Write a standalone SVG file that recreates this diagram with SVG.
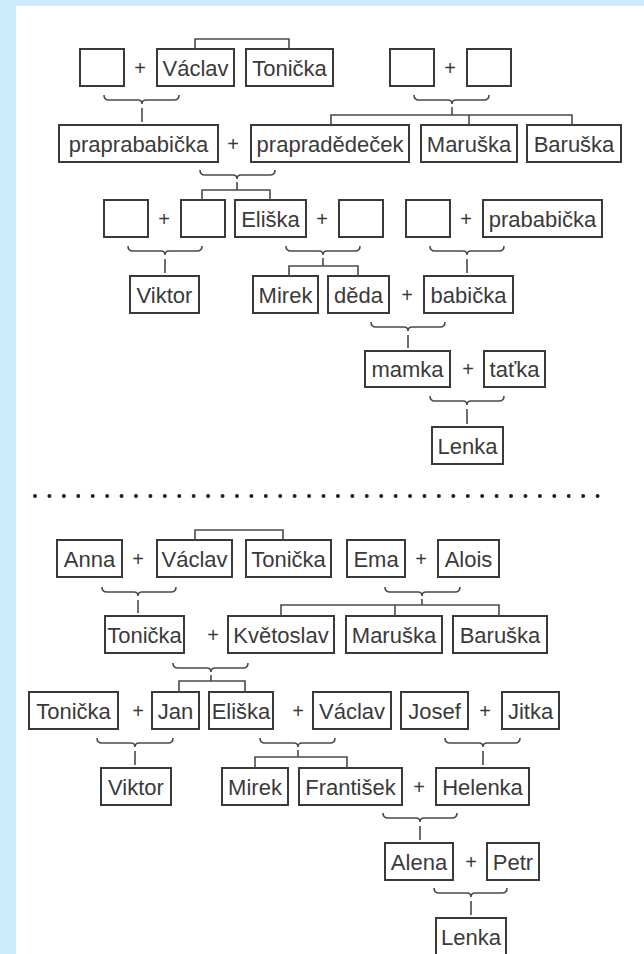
<svg xmlns="http://www.w3.org/2000/svg" width="644" height="954" viewBox="0 0 644 954">
<style>
.bg{fill:#cdeafd}
.node rect{fill:#fff;stroke:#3a3a3a;stroke-width:2}
.node text{font-family:"Liberation Sans",Arial,sans-serif;font-size:22px;fill:#3a3a3a;text-anchor:middle}
.plus{font-family:"Liberation Sans",Arial,sans-serif;font-size:20px;fill:#3a3a3a;text-anchor:middle}
.conn path{fill:none;stroke:#4a4a4a;stroke-width:1.6}
.dots{fill:none;stroke:#222;stroke-width:4;stroke-linecap:round;stroke-dasharray:0 14.425}
</style>
<rect class="bg" x="0" y="0" width="644" height="954"/>
<rect x="16" y="6" width="628" height="948" fill="#fff"/>

<!-- ===== TOP SECTION ===== -->
<g id="t_e1" class="node"><rect x="80" y="49" width="44" height="37"/></g>
<g id="t_vaclav" class="node"><rect x="157" y="49" width="77" height="37"/><text x="195.5" y="75.5">Václav</text></g>
<g id="t_tonicka" class="node"><rect x="246" y="49" width="87" height="37"/><text x="289.5" y="75.5">Tonička</text></g>
<g id="t_e2" class="node"><rect x="390" y="49" width="44" height="37"/></g>
<g id="t_e3" class="node"><rect x="467" y="49" width="44" height="37"/></g>

<g id="t_praprababicka" class="node"><rect x="59" y="125" width="159" height="37"/><text x="138.5" y="151.5">praprababička</text></g>
<g id="t_prapradedecek" class="node"><rect x="251" y="125" width="158" height="37"/><text x="330" y="151.5">prapradědeček</text></g>
<g id="t_maruska" class="node"><rect x="421" y="125" width="96" height="37"/><text x="469" y="151.5">Maruška</text></g>
<g id="t_baruska" class="node"><rect x="527" y="125" width="94" height="37"/><text x="574" y="151.5">Baruška</text></g>

<g id="t_e4" class="node"><rect x="104" y="200" width="44" height="37"/></g>
<g id="t_e5" class="node"><rect x="181" y="200" width="44" height="37"/></g>
<g id="t_eliska" class="node"><rect x="235" y="200" width="71" height="37"/><text x="270.5" y="226.5">Eliška</text></g>
<g id="t_e6" class="node"><rect x="339" y="200" width="44" height="37"/></g>
<g id="t_e7" class="node"><rect x="406" y="200" width="44" height="37"/></g>
<g id="t_prababicka" class="node"><rect x="483" y="200" width="119" height="37"/><text x="542.5" y="226.5">prababička</text></g>

<g id="t_viktor" class="node"><rect x="130" y="276" width="69" height="37"/><text x="164.5" y="302.5">Viktor</text></g>
<g id="t_mirek" class="node"><rect x="253" y="276" width="65" height="37"/><text x="285.5" y="302.5">Mirek</text></g>
<g id="t_deda" class="node"><rect x="328" y="276" width="61" height="37"/><text x="358.5" y="302.5">děda</text></g>
<g id="t_babicka" class="node"><rect x="424" y="276" width="89" height="37"/><text x="468.5" y="302.5">babička</text></g>

<g id="t_mamka" class="node"><rect x="365" y="351" width="85" height="36"/><text x="407.5" y="377">mamka</text></g>
<g id="t_tatka" class="node"><rect x="484" y="351" width="61" height="36"/><text x="514.5" y="377">taťka</text></g>

<g id="t_lenka" class="node"><rect x="432" y="427" width="71" height="37"/><text x="467.5" y="453.5">Lenka</text></g>

<!-- ===== BOTTOM SECTION ===== -->
<g id="b_anna" class="node"><rect x="57" y="540" width="65" height="37"/><text x="89.5" y="566.5">Anna</text></g>
<g id="b_vaclav" class="node"><rect x="157" y="540" width="75" height="37"/><text x="194.5" y="566.5">Václav</text></g>
<g id="b_tonicka" class="node"><rect x="246" y="540" width="85" height="37"/><text x="288.5" y="566.5">Tonička</text></g>
<g id="b_ema" class="node"><rect x="347" y="540" width="58" height="37"/><text x="376" y="566.5">Ema</text></g>
<g id="b_alois" class="node"><rect x="438" y="540" width="61" height="37"/><text x="468.5" y="566.5">Alois</text></g>

<g id="b_tonicka2" class="node"><rect x="105" y="616" width="79" height="37"/><text x="144.5" y="642.5">Tonička</text></g>
<g id="b_kvetoslav" class="node"><rect x="228" y="616" width="106" height="37"/><text x="281" y="642.5">Květoslav</text></g>
<g id="b_maruska" class="node"><rect x="346" y="616" width="96" height="37"/><text x="394" y="642.5">Maruška</text></g>
<g id="b_baruska" class="node"><rect x="453" y="616" width="94" height="37"/><text x="500" y="642.5">Baruška</text></g>

<g id="b_tonicka3" class="node"><rect x="29" y="692" width="89" height="37"/><text x="73.5" y="718.5">Tonička</text></g>
<g id="b_jan" class="node"><rect x="152" y="692" width="47" height="37"/><text x="175.5" y="718.5">Jan</text></g>
<g id="b_eliska" class="node"><rect x="209" y="692" width="64" height="37"/><text x="241" y="718.5">Eliška</text></g>
<g id="b_vaclav2" class="node"><rect x="313" y="692" width="78" height="37"/><text x="352" y="718.5">Václav</text></g>
<g id="b_josef" class="node"><rect x="401" y="692" width="67" height="37"/><text x="434.5" y="718.5">Josef</text></g>
<g id="b_jitka" class="node"><rect x="502" y="692" width="57" height="37"/><text x="530.5" y="718.5">Jitka</text></g>

<g id="b_viktor" class="node"><rect x="101" y="768" width="70" height="37"/><text x="136" y="794.5">Viktor</text></g>
<g id="b_mirek" class="node"><rect x="222" y="768" width="66" height="37"/><text x="255" y="794.5">Mirek</text></g>
<g id="b_frantisek" class="node"><rect x="299" y="768" width="103" height="37"/><text x="350.5" y="794.5">František</text></g>
<g id="b_helenka" class="node"><rect x="436" y="768" width="93" height="37"/><text x="482.5" y="794.5">Helenka</text></g>

<g id="b_alena" class="node"><rect x="385" y="843" width="68" height="37"/><text x="419" y="869.5">Alena</text></g>
<g id="b_petr" class="node"><rect x="487" y="843" width="52" height="37"/><text x="513" y="869.5">Petr</text></g>

<g id="b_lenka" class="node"><rect x="436" y="918" width="70" height="37"/><text x="471" y="944.5">Lenka</text></g>

<!-- plus signs -->
<g id="plus_signs">
<text class="plus" x="140" y="74.5">+</text>
<text class="plus" x="450" y="74.5">+</text>
<text class="plus" x="233" y="150.5">+</text>
<text class="plus" x="164" y="225.5">+</text>
<text class="plus" x="322" y="225.5">+</text>
<text class="plus" x="466" y="225.5">+</text>
<text class="plus" x="407" y="301.5">+</text>
<text class="plus" x="468" y="376">+</text>
<text class="plus" x="138" y="565.5">+</text>
<text class="plus" x="421" y="565.5">+</text>
<text class="plus" x="213" y="641.5">+</text>
<text class="plus" x="138" y="717.5">+</text>
<text class="plus" x="298" y="717.5">+</text>
<text class="plus" x="485" y="717.5">+</text>
<text class="plus" x="419" y="793.5">+</text>
<text class="plus" x="471" y="868.5">+</text>
</g>

<!-- separator -->
<line class="dots" x1="35" y1="496" x2="612" y2="496"/>

<!-- connectors -->
<g id="connectors" class="conn">
<!-- top -->
<path d="M195,49 V39 H289 V49"/>
<path d="M104,95 q0,5 5,5 H138 q4,0 4,4 q0,-4 4,-4 H174 q5,0 5,-5"/>
<path d="M142,108 V122"/>
<path d="M414,95 q0,5 5,5 H448 q4,0 4,4 q0,-4 4,-4 H484 q5,0 5,-5"/>
<path d="M452,107 V115 M331,125 V115 H572 V125 M469,115 V125"/>
<path d="M200,170 q0,5 5,5 H233 q4,0 4,4 q0,-4 4,-4 H270 q5,0 5,-5"/>
<path d="M237,182 V190 M202,200 V190 H270 V200"/>
<path d="M128,246 q0,5 5,5 H161 q4,0 4,4 q0,-4 4,-4 H197 q5,0 5,-5"/>
<path d="M165,259 V273"/>
<path d="M286,246 q0,5 5,5 H319 q4,0 4,4 q0,-4 4,-4 H355 q5,0 5,-5"/>
<path d="M323,258 V266 M289,276 V266 H358 V276"/>
<path d="M430,246 q0,5 5,5 H463 q4,0 4,4 q0,-4 4,-4 H499 q5,0 5,-5"/>
<path d="M467,259 V273"/>
<path d="M371,322 q0,5 5,5 H404 q4,0 4,4 q0,-4 4,-4 H440 q5,0 5,-5"/>
<path d="M408,335 V348"/>
<path d="M430,396 q0,5 5,5 H463 q4,0 4,4 q0,-4 4,-4 H499 q5,0 5,-5"/>
<path d="M467,409 V424"/>
<!-- bottom -->
<path d="M195,540 V530 H283 V540"/>
<path d="M102,587 q0,5 5,5 H134 q4,0 4,4 q0,-4 4,-4 H171 q5,0 5,-5"/>
<path d="M138,600 V613"/>
<path d="M385,587 q0,5 5,5 H418 q4,0 4,4 q0,-4 4,-4 H455 q5,0 5,-5"/>
<path d="M422,599 V605 M281,616 V605 H499 V616 M395,605 V616"/>
<path d="M173,663 q0,5 5,5 H207 q4,0 4,4 q0,-4 4,-4 H243 q5,0 5,-5"/>
<path d="M211,675 V681 M179,692 V681 H245 V692"/>
<path d="M97,738 q0,5 5,5 H131 q4,0 4,4 q0,-4 4,-4 H168 q5,0 5,-5"/>
<path d="M135,751 V765"/>
<path d="M260,738 q0,5 5,5 H294 q4,0 4,4 q0,-4 4,-4 H330 q5,0 5,-5"/>
<path d="M298,750 V757 M255,768 V757 H347 V768"/>
<path d="M445,738 q0,5 5,5 H479 q4,0 4,4 q0,-4 4,-4 H515 q5,0 5,-5"/>
<path d="M483,751 V765"/>
<path d="M383,813 q0,5 5,5 H416 q4,0 4,4 q0,-4 4,-4 H452 q5,0 5,-5"/>
<path d="M420,826 V840"/>
<path d="M434,888 q0,5 5,5 H467 q4,0 4,4 q0,-4 4,-4 H502 q5,0 5,-5"/>
<path d="M471,901 V915"/>
</g>
</svg>
